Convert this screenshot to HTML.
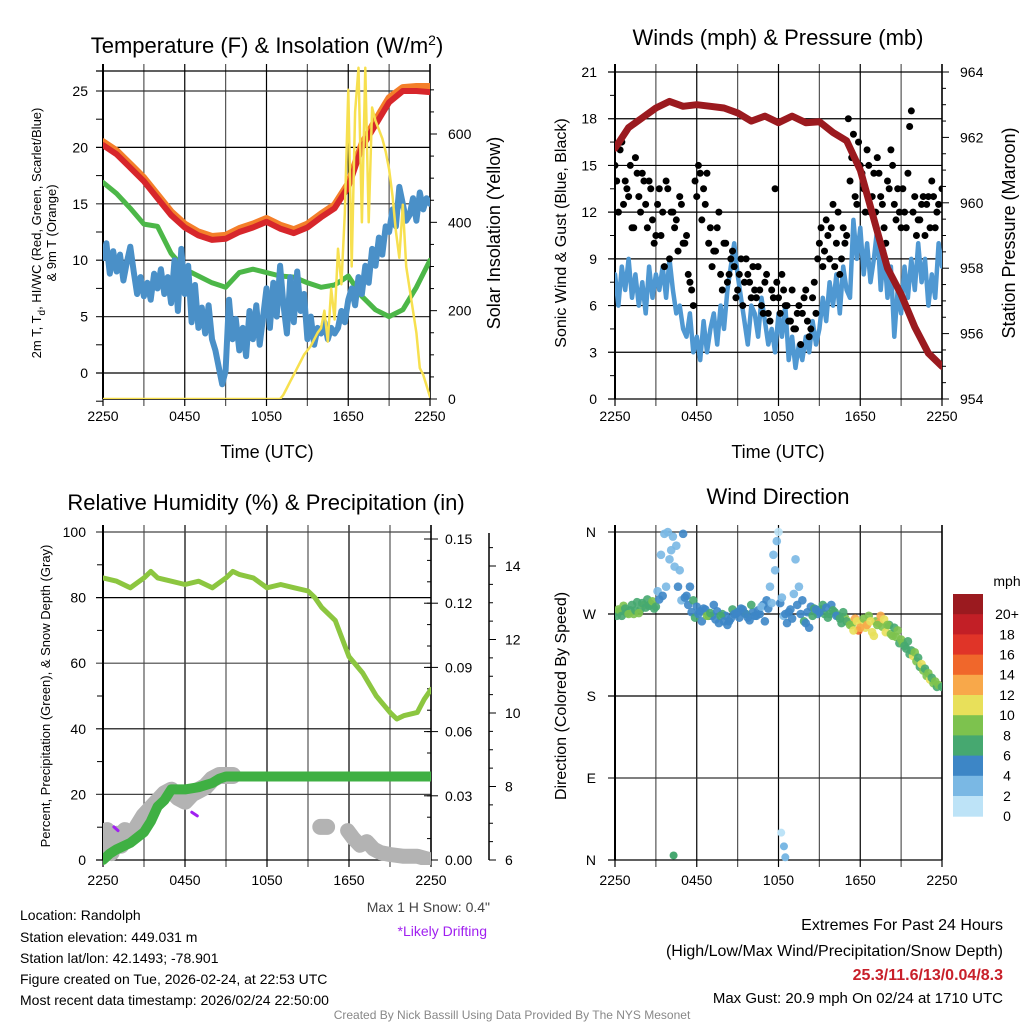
<!DOCTYPE html>
<html><head><meta charset="utf-8"><style>
body{margin:0;background:#fff;}
svg{display:block;font-family:"Liberation Sans",Arial,sans-serif;}
</style></head><body>
<svg id="s" width="1024" height="1024" viewBox="0 0 1024 1024">
<defs>
<clipPath id="c1"><rect x="103" y="64" width="327" height="335"/></clipPath>
<clipPath id="c2"><rect x="615" y="64" width="327" height="335"/></clipPath>
<clipPath id="c3"><rect x="103" y="525" width="328" height="340"/></clipPath>
<clipPath id="c4"><rect x="615" y="525" width="327" height="340"/></clipPath>
</defs>
<g><text x="267" y="53" font-size="22" text-anchor="middle">Temperature (F) &amp; Insolation (W/m<tspan dy="-8" font-size="14">2</tspan><tspan dy="8">)</tspan></text></g>
<text x="778" y="45" font-size="22" text-anchor="middle">Winds (mph) &amp; Pressure (mb)</text>
<text x="266" y="510" font-size="22" text-anchor="middle">Relative Humidity (%) &amp; Precipitation (in)</text>
<text x="778" y="504" font-size="22" text-anchor="middle">Wind Direction</text>
<text x="267" y="458" font-size="18" text-anchor="middle">Time (UTC)</text>
<text x="778" y="458" font-size="18" text-anchor="middle">Time (UTC)</text>
<g font-size="13" text-anchor="middle">
<text transform="translate(41,233) rotate(-90)">2m T, T<tspan dy="4" font-size="10">d</tspan><tspan dy="-4">, HI/WC (Red, Green, Scarlet/Blue)</tspan></text>
<text transform="translate(56,233) rotate(-90)">&amp; 9m T (Orange)</text></g>
<text transform="translate(500,233) rotate(-90)" font-size="18" text-anchor="middle">Solar Insolation (Yellow)</text>
<text transform="translate(566,233) rotate(-90)" font-size="16" text-anchor="middle">Sonic Wind &amp; Gust (Blue, Black)</text>
<text transform="translate(1015,233) rotate(-90)" font-size="18" text-anchor="middle">Station Pressure (Maroon)</text>
<text transform="translate(50,696) rotate(-90)" font-size="13" text-anchor="middle">Percent, Precipitation (Green), &amp; Snow Depth (Gray)</text>
<text transform="translate(566,696) rotate(-90)" font-size="16" text-anchor="middle">Direction (Colored By Speed)</text>
<g font-size="14">
<text x="20" y="920">Location: Randolph</text>
<text x="20" y="942">Station elevation: 449.031 m</text>
<text x="20" y="963">Station lat/lon: 42.1493; -78.901</text>
<text x="20" y="984">Figure created on Tue, 2026-02-24, at 22:53 UTC</text>
<text x="20" y="1005">Most recent data timestamp: 2026/02/24 22:50:00</text>
</g>
<text x="490" y="912" font-size="14" fill="#444" text-anchor="end">Max 1 H Snow: 0.4"</text>
<text x="487" y="936" font-size="14" fill="#a020f0" text-anchor="end">*Likely Drifting</text>
<g font-size="16" text-anchor="end">
<text x="1003" y="930">Extremes For Past 24 Hours</text>
<text x="1003" y="956">(High/Low/Max Wind/Precipitation/Snow Depth)</text>
<text x="1003" y="980" fill="#c8202a" font-weight="bold">25.3/11.6/13/0.04/8.3</text>
<text x="1003" y="1003" font-size="15">Max Gust: 20.9 mph On 02/24 at 1710 UTC</text>
</g>
<text x="512" y="1019" font-size="12" fill="#888" text-anchor="middle">Created By Nick Bassill Using Data Provided By The NYS Mesonet</text>
<text x="1007" y="586" font-size="14" text-anchor="middle">mph</text>
</svg>
<script>
// ---------- data ----------
const xTickLabels = ["2250","0450","1050","1650","2250"];
const xTickHours = [0,6,12,18,24];
const tempTicks = [0,5,10,15,20,25];
const solarTicks = [0,200,400,600];
const windTicks = [0,3,6,9,12,15,18,21];
const presTicks = [954,956,958,960,962,964];
const rhTicks = [0,20,40,60,80,100];
const precipTicks = [0.00,0.03,0.06,0.09,0.12,0.15];
const snowTicks = [6,8,10,12,14];
const dirTicks = ["N","E","S","W","N"];
const dirTickVals = [0,90,180,270,360];
const cbLabels = ["0","2","4","6","8","10","12","14","16","18","20+"];
const cbColors = ["#bde3f7","#7ab8e4","#3d86c6","#46a870","#7dc24e","#e8e05a","#f8a84a","#f0672b","#e03428","#c21f26","#9b1a1f"];

// hourly (t = 0..24)
const tempRed = [20.2,19.4,18.2,17.0,15.5,14.0,12.9,12.2,11.8,11.9,12.5,12.9,13.4,12.8,12.4,12.9,13.8,14.6,16.5,20.0,22.0,24.0,25.0,25.0,24.9];
const tempOrange = [20.5,19.7,18.5,17.3,15.8,14.3,13.2,12.5,12.1,12.2,12.8,13.2,13.7,13.1,12.7,13.2,14.1,14.9,16.8,20.3,22.4,24.4,25.3,25.4,25.4];
const tempGreen = [16.9,15.9,14.6,13.2,13.0,10.6,9.2,8.6,8.0,7.6,8.9,9.2,8.9,8.6,8.5,8.0,7.6,7.8,8.6,6.8,5.6,5.0,5.6,7.6,10.0];
// quarter-hourly (t = 0..24 step 0.25)
const tempBlue = [10.2,11.5,8.8,10.8,9.0,10.5,8.2,9.8,11.2,9.0,7.0,8.5,6.8,
8.0,6.5,8.8,7.5,9.2,7.0,8.5,6.2, 10.0,5.5,11.0,7.0,9.5,4.5,7.8,4.0,
5.8,3.5,6.0,3.0,2.0,0.5,-1.0,0.2, 6.5,3.0,4.8,2.0,4.0,1.5,5.5,3.0,
6.0,2.5,5.0,7.5,4.0,8.0,5.0,9.5, 6.0,3.5,8.5,4.5,9.0,5.5,7.0,3.0,
5.0,2.5,4.0,3.5,4.5,3.0,4.0,3.5, 4.0,5.5,4.5,6.5,7.5,6.0,8.5,7.0,
9.5,8.0,11.0,9.5,12.0,10.5,13.0,12.5, 14.5,13.0,16.5,15.0,13.5,14.0,15.5,13.5, 16.0,14.5,15.5,15.0];
const solar = [0,0,0,0,0,0,0,0,0,0,0,0,0,0,0,0,0,0,0,0,0,0,0,0,0,0,0,0,0,0,0,0,0,0,0,0,0,0,0,0,0,0,0,0,0,0,0,0,0,0,0,0,
0,10,25,40,55,70,85,100,110,120,135,150,160,200,130,250,180,340,260,420,700,300,650,750,400,750,400,660,630,610,590,560,520,460,380,320,440,300,250,200,150,70,55,30,5];
const sonicWind = [8,6,8.5,7,9,6.5,8,6,7.5,5.5,8.5,6.5,8,
7,8.5,6.5,9,7,5.5,6,4.5, 4,5.5,3,4,2.5,5,3,4.5, 5.5,3.5,6,4.5,7,8.5,10,8,
6.5,5,3.5,6,5.5,4,6.5,5, 3.5,4.5,3,5.5,4,6,2.5,4, 2,3.5,2.5,4,3,5,3.5,4.5,
6.5,5,7.5,6,8,5.5,8.5,7, 6.5,11.5,9,11,8,10,7.5,9, 11,7,9.5,6.5,8.5,4,7,5.5,
8.5,6.5,9,7,10,7.5,9,6, 8,6.5,10,8.5];
const gustA = [15,12,16.5,14,13,11,15.5,13,14.5,12.5,14,11.5,10.5,
13.5,12,14,9,12,11.5,13,10, 10.5,7.5,6,13,14.5,13.5,14.5,11, 9.5,11,8,10,7.5,9,8.5,7,
9,7.5,8,6.5,7,8.5,6,7.5, 5.5,7,13.5,6.5,8,6,5,7, 4.5,6,5.5,7,4,6.5,5.5,10,
8.5,11.5,9,12.5,10,8,11,10.5, 14,17,12.5,15,13.5,16,12,14.5, 15.5,13,11,14,16,12.5,13.5,11,
12,14.5,18.5,13,11.5,12.5,10.5,13, 14,11,12.5,13.5];
const gustB = [14,16,12.5,13.5,15,11,14.5,12,14,11,13.5,10,
12.5,10.5,8.5,13.5,12,11,9.5,12.5, 10,8,7,14,15,11.5,12.5,10, 8.5,9.5,12,7,10,8,9.5,6.5,
8,6,9,7.5,8.5,6.5,7,5.5, 8,5,6.5,7.5,5.5,7,6,5, 4.5,5.5,3.5,6.5,5,4.5,7.5,9,
11,9.5,10.5,11,8.5,12,9,10, 18,15.5,13,16.5,14.5,12,15,13, 12,14.5,12.5,10,13.5,15,11.5,12,
13.5,11,17.5,12,10.5,11.5,13,12.5, 11,13,12];
const pressure = [961.67,962.3,962.6,962.9,963.1,962.95,963.0,962.95,962.9,962.75,962.5,962.65,962.45,962.65,962.45,962.48,962.15,961.9,961.0,959.5,958.0,957.2,956.2,955.4,955.0];
// RH & precip/snow
const rhHours = [0,1,2,3,3.5,4,5,6,7,8,9,9.5,10,11,12,13,14,15,15.5,16,17,18,19,20,21,21.5,22,23,23.5,24];
const rhVals = [86,85,83,86,88,86,85,84,85,83,86,88,87,86,83,84,83,82,80,77,73,62,57,50,45,43,44,45,49,52];
const precipHours = [0,0.5,1,2,3,3.5,4,4.5,5,6,7,8,8.5,9,24];
const precipVals = [0,0.003,0.005,0.008,0.013,0.018,0.025,0.028,0.033,0.033,0.034,0.036,0.038,0.039,0.039];
const snowHours = [0,0.3,0.6,1,1.3,1.6,2,2.5,3,3.5,4,4.5,5,5.5,6,6.5,7,7.5,8,8.5,9,9.5];
const snowVals = [6.3,6.8,6.2,6.7,6.4,6.8,6.6,6.9,7.2,7.4,7.6,7.8,7.9,7.7,7.6,7.8,7.9,8.0,8.2,8.3,8.3,8.3];
const snowHoursBlob = [15.9,16.4];
const snowValsBlob = [6.9,6.9];
const snowHours2 = [17.9,18.3,18.8,19.3,19.8,20.3,21,22,23,24];
const snowVals2 = [6.8,6.6,6.4,6.5,6.3,6.2,6.15,6.1,6.1,6.0];
const driftHours = [0.8,1.1,6.5,6.9,9.3,9.6];
const driftVals = [6.9,6.8,7.3,7.2,8.2,8.3];
// wind direction every 0.25 h, with speeds
const windDir = [272,275,268,276,270,280,274,271,282,277,279,284,278,
286,290,300,330,355,345,318,358, 290,300,285,278,273,276,268,271,
280,273,268,262,258,265,270,272, 276,271,266,280,268,274,278,262,
276,282,318,360,288,270,272,265, 330,300,285,260,255,268,275,272,
280,277,270,274,268,265,272,262, 258,252,262,255,265,258,262,246,
258,268,264,258,248,255,252,242, 235,240,230,228,222,215,210,205, 200,196,192,190];
const dirSpeed = [7,8,6,7,9,7,6,8,7,6,7,8,7,
5,4,3,2,3,2,3,4, 5,4,6,5,4,5,8,6,
4,5,6,5,4,5,4,5, 5,4,5,6,5,4,3,5,
4,3,2,1,3,4,5,4, 3,2,4,5,4,6,5,4,
6,5,7,6,5,6,7,6, 8,11,10,12,9,13,10,11, 9,12,10,8,9,7,9,8,
7,6,7,9,6,10,7,8, 6,9,8,7];
const windDir2 = [268,273,279,271,274,270,283,275,280,286,281,276,
295,335,358,360,340,322,300,285, 288,280,272,266,270,262,275,268,
268,264,260,270,268,262,275,270, 266,275,270,263,272,268,270,280,
285,300,335,350,282,268,260,275, 292,280,270,262,272,278,276,270,
275,270,266,280,272,268,260,266, 262,258,265,252,260,255,268,250,
262,260,256,250,258,246,245,238, 238,232,226,224,218,212,208,202, 198,194,190];
const dirSpeed2 = [6,7,8,7,6,8,7,6,8,7,6,7,
3,2,3,2,2,3,4,3, 4,5,4,6,5,4,5,6,
5,4,5,6,4,5,6,5, 4,5,6,5,4,5,4,5,
4,3,2,2,4,3,5,4, 3,4,5,6,5,4,6,5,
7,6,7,5,6,7,6,8, 10,9,12,14,10,11,9,10, 8,12,9,10,7,8,9,7,
8,7,6,10,8,7,9,8, 11,9,6];
const outHours = [4.3,12.2,12.4,12.5];
const outDir = [5,30,15,3];
const outSpd = [6,1,3,3];

// ---------- helpers ----------
const S = document.getElementById('s');
const NS = 'http://www.w3.org/2000/svg';
function mk(tag, attrs, parent){const e=document.createElementNS(NS,tag);for(const k in attrs)e.setAttribute(k,attrs[k]);(parent||S).appendChild(e);return e;}
function lin(d0,d1,r0,r1){return v=>r0+(v-d0)*(r1-r0)/(d1-d0);}
function pathD(xs,ys){return xs.map((x,i)=>(i?'L':'M')+x.toFixed(1)+','+ys[i].toFixed(1)).join('');}
function spdColor(s){let b=Math.min(10,Math.max(0,Math.floor(s/2)));return cbColors[b];}

function frame(name){
  const g=mk('g',{});
  
  
  return g;
}
function xAxis(g,X,yb,top,labelY){
  for(let h=0;h<=24;h+=3){
    const l=mk('line',{x1:X(h),x2:X(h),y1:top,y2:yb+7,stroke:(h%6===0?'#000':'#555'),'stroke-width':1.2},g);
    
    
  }
  xTickHours.forEach((h,i)=>{
    const t=mk('text',{x:X(h),y:labelY,'font-size':14,'text-anchor':'middle'},g);
    t.textContent=xTickLabels[i];
    
    
  });
}
function hGrid(g,x0,x1,y,color){
  const l=mk('line',{x1:x0-7,x2:x1,y1:y,y2:y,stroke:color||'#000','stroke-width':1.2},g);
  
  
}
function label(g,x,y,txt,anchor,name){
  const t=mk('text',{x:x,y:y,'font-size':14,'text-anchor':anchor},g);
  t.textContent=txt;
  
  
}
function vline(g,x,y0,y1,w){mk('line',{x1:x,x2:x,y1:y0,y2:y1,stroke:'#000','stroke-width':w||1.5},g);}
function drawLine(g,xs,ys,color,w,name,clip){
  const p=mk('path',{d:pathD(xs,ys),fill:'none',stroke:color,'stroke-width':w,'stroke-linejoin':'round','stroke-linecap':'round','clip-path':'url(#'+clip+')'},g);
  
  
  return p;
}

// ---------- panel 1 ----------
(function(){
  const g=frame('temperature-panel');
  const X=lin(0,24,103,430), Y=lin(0,25,373,91), YS=lin(0,600,399,134);
  xAxis(g,X,399,64,421);
  tempTicks.forEach(v=>{hGrid(g,103,430,Y(v),v%10===0?'#000':'#333');label(g,88,Y(v)+5,String(v),'end','temp-tick-label');});
  hGrid(g,103,430,71);
  for(let v=-2.5;v<=27;v+=2.5){if(v%5!==0)mk('line',{x1:96,x2:103,y1:Y(v),y2:Y(v),stroke:'#000'},g);}
  solarTicks.forEach(v=>{mk('line',{x1:430,x2:437,y1:YS(v),y2:YS(v),stroke:'#000'},g);label(g,448,YS(v)+5,String(v),'start','solar-tick-label');});
  for(let v=50;v<=700;v+=50){if(v%200!==0)mk('line',{x1:430,x2:434,y1:YS(v),y2:YS(v),stroke:'#000'},g);}
  vline(g,103,64,399,2);vline(g,430,64,399,1.5);
  mk('line',{x1:103,x2:430,y1:399,y2:399,stroke:'#000','stroke-width':1.5},g);
  const hx=tempRed.map((v,i)=>X(i));
  drawLine(g,hx,tempOrange.map(Y),'#f47f2a',7,'orange-9m-temp-line','c1');
  drawLine(g,hx,tempRed.map(Y),'#d7262b',6,'red-2m-temp-line','c1');
  drawLine(g,hx,tempGreen.map(Y),'#4cb748',5,'green-dewpoint-line','c1');
  drawLine(g,tempBlue.map((v,i)=>X(i*0.25)),tempBlue.map(Y),'#4a90c8',6,'blue-windchill-line','c1');
  drawLine(g,solar.map((v,i)=>X(i*0.25)),solar.map(YS),'#f7e04f',2.5,'yellow-solar-line','c1');
})();

// ---------- panel 2 ----------
(function(){
  const g=frame('winds-panel');
  const X=lin(0,24,615,942), Y=lin(0,21,399,72), YP=lin(954,964,399,72);
  xAxis(g,X,399,64,421);
  windTicks.forEach(v=>{hGrid(g,615,942,Y(v));label(g,597,Y(v)+5,String(v),'end','wind-tick-label');});
  for(let v=1.5;v<21;v+=3)mk('line',{x1:610,x2:615,y1:Y(v),y2:Y(v),stroke:'#000'},g);
  presTicks.forEach(v=>{mk('line',{x1:942,x2:949,y1:YP(v),y2:YP(v),stroke:'#000'},g);label(g,960,YP(v)+5,String(v),'start','pressure-tick-label');});
  for(let v=954.5;v<964;v+=0.5){if(v%2!==0)mk('line',{x1:942,x2:946,y1:YP(v),y2:YP(v),stroke:'#000'},g);}
  vline(g,615,64,399,2);vline(g,942,64,399,1.5);
  drawLine(g,sonicWind.map((v,i)=>X(i*0.25)),sonicWind.map(Y),'#4f98d2',4.5,'sonic-wind-line','c2');
  gustA.forEach((v,i)=>{const c=mk('circle',{cx:X(i*0.25),cy:Y(v),r:3.5,fill:'#000','clip-path':'url(#c2)'},g);
    
    });
  gustB.forEach((v,i)=>{const c=mk('circle',{cx:X(i*0.25+0.125),cy:Y(v),r:3.5,fill:'#000','clip-path':'url(#c2)'},g);
    
    });
  drawLine(g,pressure.map((v,i)=>X(i)),pressure.map(YP),'#9b1a1f',7,'pressure-line','c2');
})();

// ---------- panel 3 ----------
(function(){
  const g=frame('humidity-panel');
  const X=lin(0,24,103,431), Y=lin(0,100,860,532), YPr=lin(0,0.15,860,539), YSn=lin(6,14,860,566);
  xAxis(g,X,860,525,885);
  rhTicks.forEach(v=>{hGrid(g,103,431,Y(v),v%40===0?'#000':'#444');label(g,86,Y(v)+5,String(v),'end','rh-tick-label');});
  for(let v=10;v<100;v+=20)mk('line',{x1:97,x2:103,y1:Y(v),y2:Y(v),stroke:'#000'},g);
  precipTicks.forEach(v=>{mk('line',{x1:424,x2:438,y1:YPr(v),y2:YPr(v),stroke:'#000'},g);label(g,445,YPr(v)+5,v.toFixed(2),'start','precip-tick-label');});
  for(let v=0.01;v<0.15;v+=0.01){mk('line',{x1:427,x2:431,y1:YPr(v),y2:YPr(v),stroke:'#000'},g);}
  vline(g,489,533,860,1.5);
  snowTicks.forEach(v=>{mk('line',{x1:489,x2:496,y1:YSn(v),y2:YSn(v),stroke:'#000'},g);label(g,505,YSn(v)+5,String(v),'start','snow-tick-label');});
  for(let v=6.5;v<15;v+=0.5){if(v%2!==0)mk('line',{x1:489,x2:493,y1:YSn(v),y2:YSn(v),stroke:'#000'},g);}
  vline(g,103,525,860,2);vline(g,431,525,860,1.5);
  drawLine(g,snowHours.map(X),snowVals.map(YSn),'#b3b3b3',17,'snow-depth-line','c3');
  drawLine(g,snowHoursBlob.map(X),snowValsBlob.map(YSn),'#b3b3b3',16,'snow-depth-blob','c3');
  drawLine(g,snowHours2.map(X),snowVals2.map(YSn),'#b3b3b3',15,'snow-depth-line-late','c3');
  for(let i=0;i<driftHours.length;i+=2){drawLine(g,[X(driftHours[i]),X(driftHours[i+1])],[YSn(driftVals[i]),YSn(driftVals[i+1])],'#a020f0',3,'drifting-marker','c3');}
  drawLine(g,precipHours.map(X),precipVals.map(YPr),'#3fb043',10,'precip-line','c3');
  drawLine(g,rhHours.map(X),rhVals.map(Y),'#8cc640',5,'rh-line','c3');
})();

// ---------- panel 4 ----------
(function(){
  const g=frame('direction-panel');
  const X=lin(0,24,615,942), Y=lin(0,360,860,532);
  xAxis(g,X,860,525,885);
  dirTickVals.forEach((v,i)=>{hGrid(g,615,942,Y(v),(v===90||v===360)?'#333':'#000');label(g,596,Y(v)+5,dirTicks[i],'end','direction-tick-label');});
  vline(g,615,525,860,2);vline(g,942,525,860,1.5);
  windDir2.forEach((v,i)=>{const c=mk('circle',{cx:X(i*0.25+0.125),cy:Y(v),r:4.3,fill:spdColor(dirSpeed2[i]),'fill-opacity':0.9,'clip-path':'url(#c4)'},g);
    
    });
  windDir.forEach((v,i)=>{const c=mk('circle',{cx:X(i*0.25),cy:Y(v),r:4.3,fill:spdColor(dirSpeed[i]),'fill-opacity':0.9,'clip-path':'url(#c4)'},g);
    
    });
  outHours.forEach((h,i)=>{const c=mk('circle',{cx:X(h),cy:Y(outDir[i]),r:4,fill:spdColor(outSpd[i]),'clip-path':'url(#c4)'},g);
    
    });
  const cb=mk('g',{});
  
  
  const top=594,h=20.2;
  for(let k=0;k<cbColors.length;k++){
    const idx=cbColors.length-1-k;
    const r=mk('rect',{x:953,y:top+k*h,width:30,height:h+0.5,fill:cbColors[idx]},cb);
    
    
    label(cb,1007,top+k*h+h/2+15,cbLabels[idx],'middle','colorbar-label');
  }
})();
</script>
</body></html>
